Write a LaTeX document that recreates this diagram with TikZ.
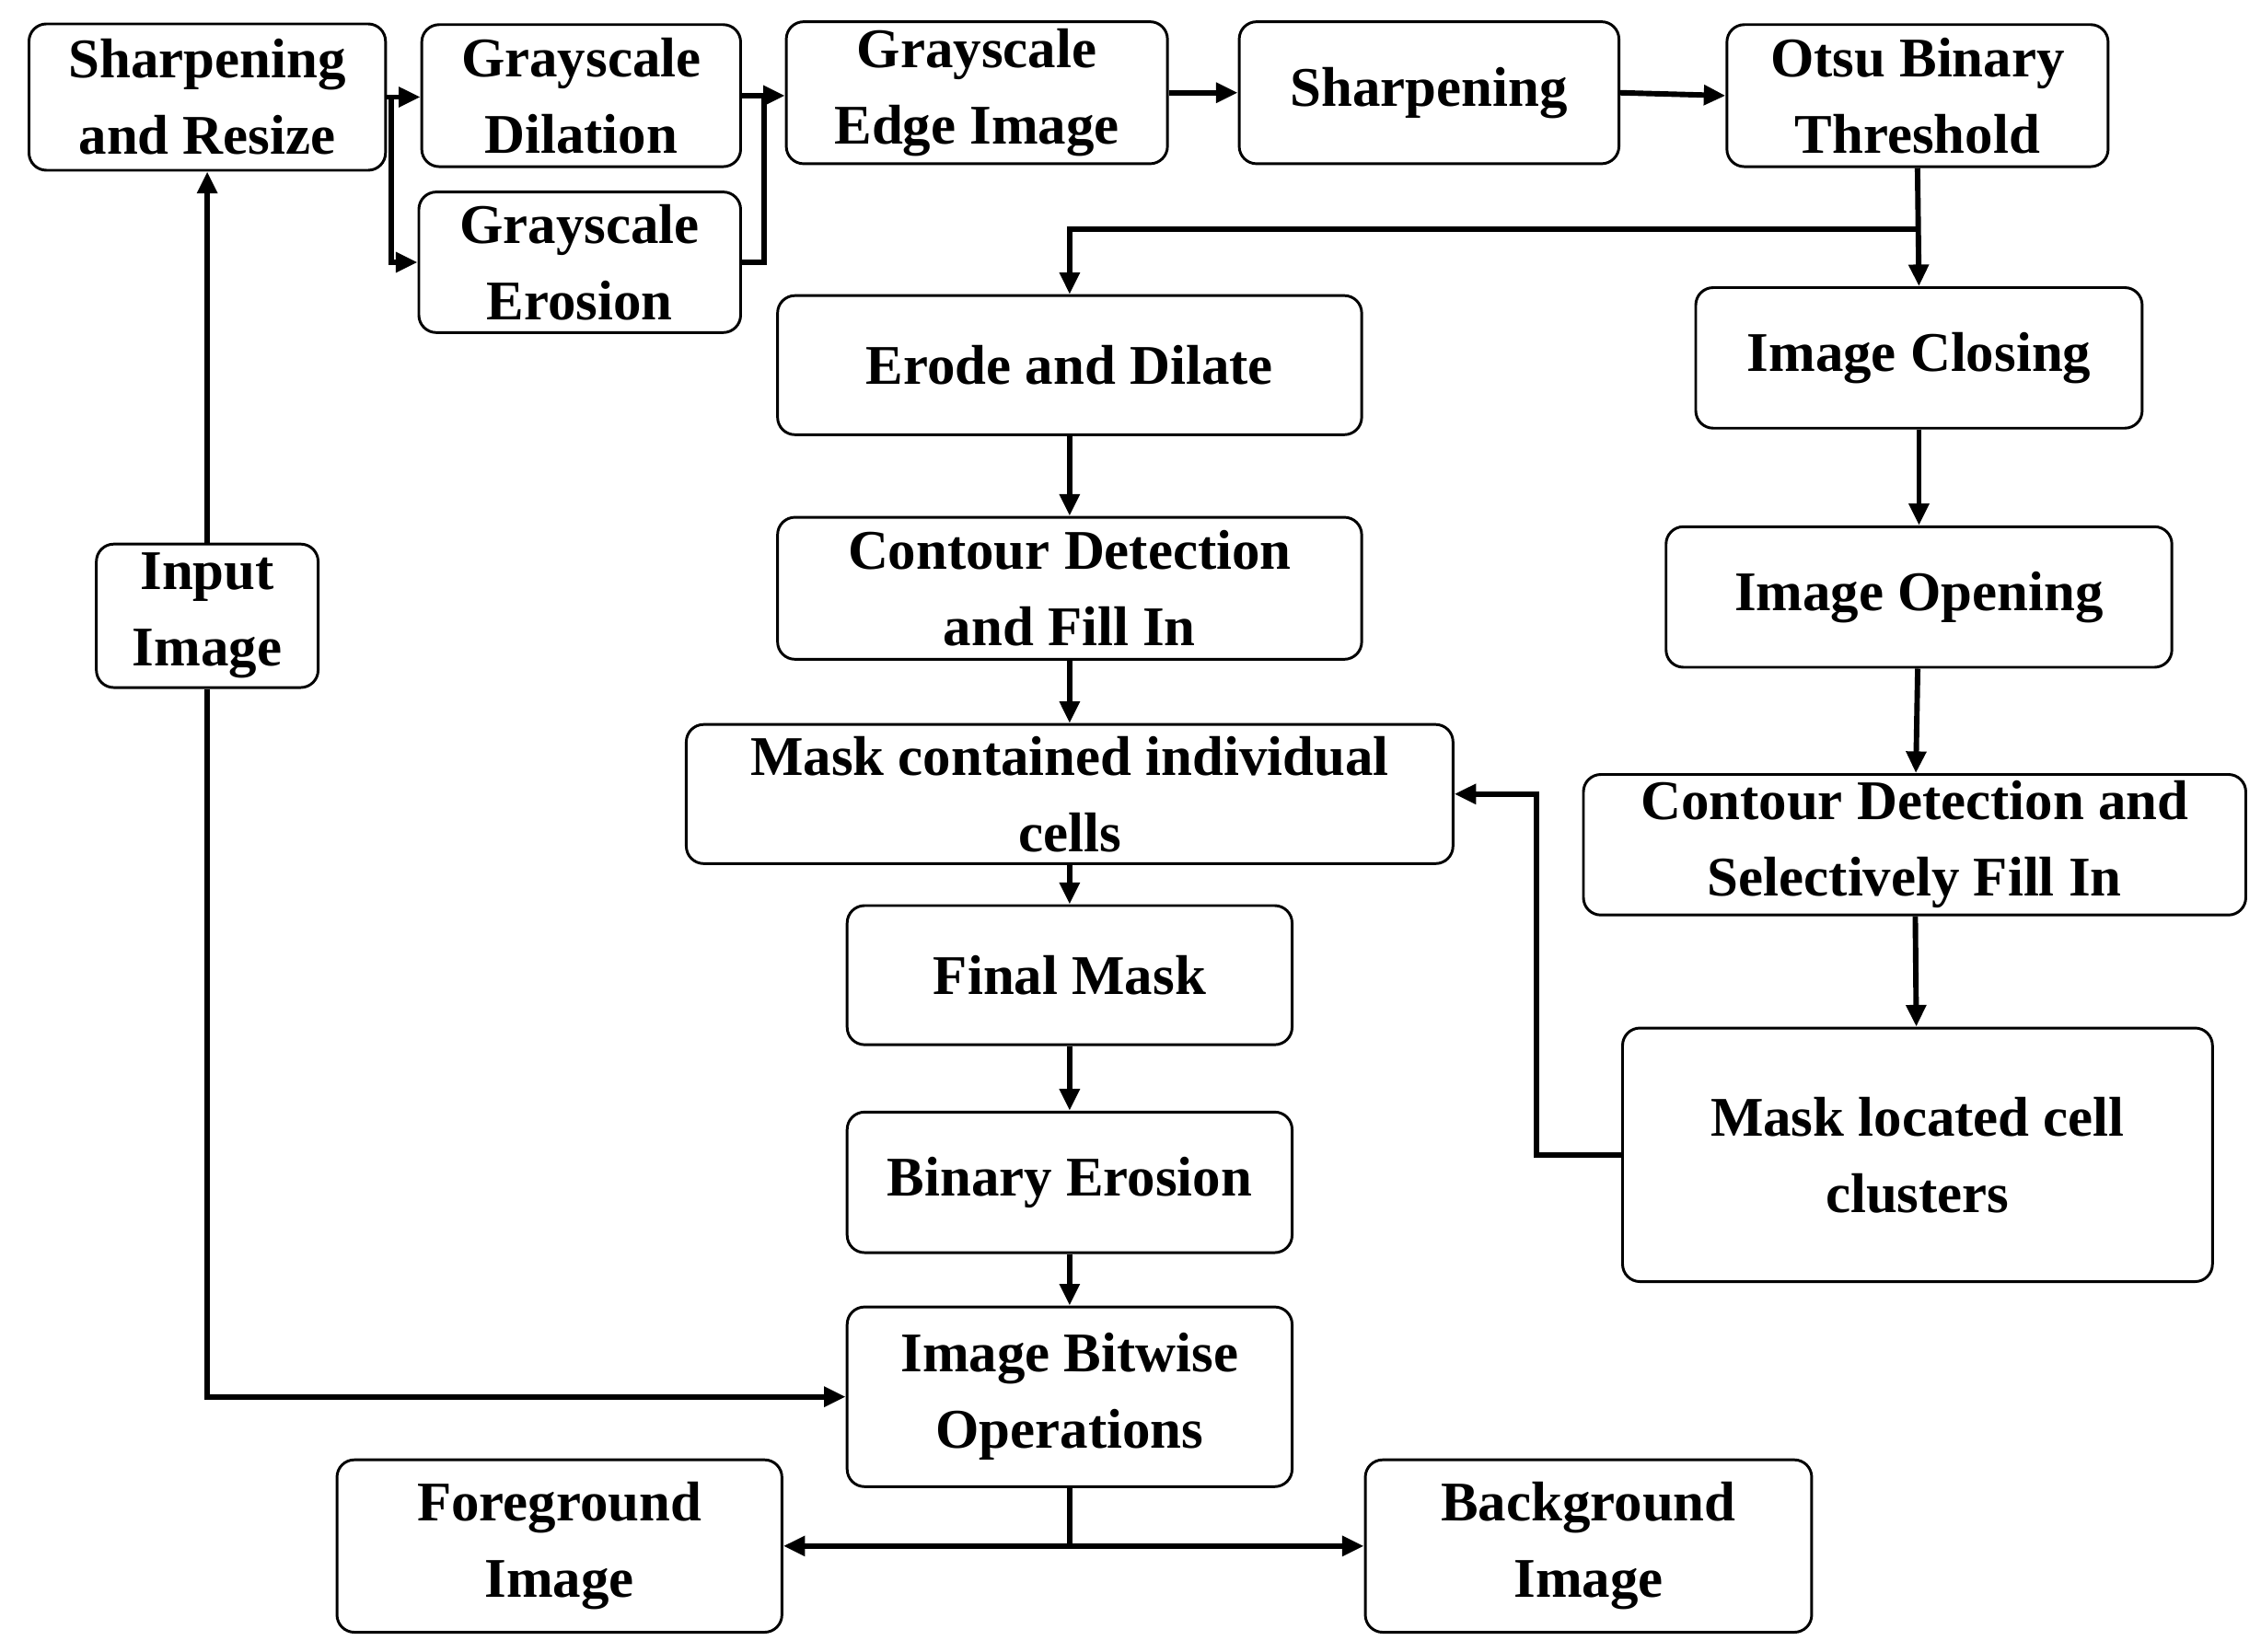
\documentclass[tikz,border=0pt]{standalone}
\usepackage{fontspec}
\setmainfont{Liberation Serif}
\usetikzlibrary{arrows.meta}
\begin{document}
\begin{tikzpicture}[x=0.03cm,y=-0.03cm,
 box/.style 2 args={draw,rounded corners=0.36cm,line width=1.6pt,inner sep=0pt,
  minimum width=#1*0.03cm,minimum height=#2*0.03cm,align=center,
  font=\fontsize{33}{45}\selectfont\bfseries},
 ar/.style={line width=3.2pt,-{Triangle[length=0.45cm,width=0.4cm]}},
 ln/.style={line width=3.2pt}]
\useasboundingbox (0,0) rectangle (1560,1140);
\node[box={246}{101}] (n1) at (143,67) {Sharpening\\and Resize};
\node[box={220}{98}] (n2) at (401,66) {Grayscale\\Dilation};
\node[box={222}{97}] (n3) at (400,181) {Grayscale\\Erosion};
\node[box={263}{98}] (n4) at (674,64) {Grayscale\\Edge Image};
\node[box={262}{98}] (n5) at (986,64) {Sharpening};
\node[box={263}{98}] (n6) at (1323,66) {Otsu Binary\\Threshold};
\node[box={403}{96}] (n7) at (738,252) {Erode and Dilate};
\node[box={308}{97}] (n8) at (1324,247) {Image Closing};
\node[box={403}{98}] (n9) at (738,406) {Contour Detection\\and Fill In};
\node[box={349}{97}] (n10) at (1324,412) {Image Opening};
\node[box={529}{96}] (n11) at (738,548) {Mask contained individual\\cells};
\node[box={457}{97}] (n12) at (1321,583) {Contour Detection and\\Selectively Fill In};
\node[box={307}{96}] (n13) at (738,673) {Final Mask};
\node[box={407}{175}] (n14) at (1323,797) {Mask located cell\\clusters};
\node[box={307}{97}] (n15) at (738,816) {Binary Erosion};
\node[box={153}{99}] (n16) at (143,425) {Input\\Image};
\node[box={307}{124}] (n17) at (738,964) {Image Bitwise\\Operations};
\node[box={307}{119}] (n18) at (386,1067) {Foreground\\Image};
\node[box={308}{119}] (n19) at (1096,1067) {Background\\Image};
\coordinate (j1) at (270,67);
\draw[ar] (n1.east) -- (n2.west |- n1.east);
\draw[ln] (n1.east) -- (j1);
\draw[ar] (j1) |- (n3.west);
\draw[ln] (n2.east) -- (527,66) |- (527,181) -- (n3.east);
\draw[ar] (527,66) -- (n4.west |- 0,66);
\draw[ar] (n4.east) -- (n5.west);
\draw[ar] (n5.east) -- (n6.west);
\draw[ar] (n6.south) -- (n8.north);
\draw[ar] (1323,158) -| (n7.north);
\draw[ar] (n7) -- (n9);
\draw[ar] (n9) -- (n11);
\draw[ar] (n11) -- (n13);
\draw[ar] (n13) -- (n15);
\draw[ar] (n15) -- (n17);
\draw[ar] (n8) -- (n10);
\draw[ar] (n10) -- (n12);
\draw[ar] (n12) -- (n14);
\draw[ar] (n14.west) -- (1060,797) |- (n11.east);
\draw[ar] (n16) -- (n1);
\draw[ar] (n16.south) |- (n17.west);
\draw[ar] (n17.south) |- (n18.east);
\draw[ar] (n17.south) |- (n19.west);
\end{tikzpicture}
\end{document}
